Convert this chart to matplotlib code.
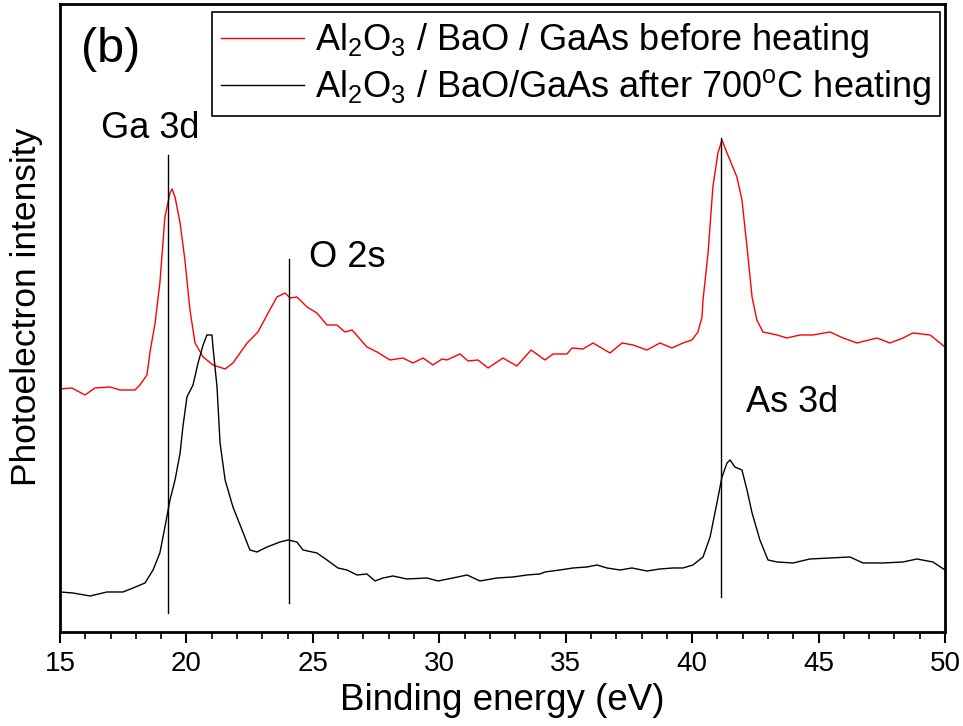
import numpy as np
import matplotlib
matplotlib.use("Agg")
import matplotlib.pyplot as plt
from matplotlib.ticker import MultipleLocator

plt.rcParams['font.family'] = ['Liberation Sans', 'DejaVu Sans']
plt.rcParams['mathtext.fontset'] = 'custom'
plt.rcParams['mathtext.rm'] = 'Liberation Sans'

# binding energy (eV) and intensity (arb. units)
be_before = [15.00, 15.47, 15.99, 16.38, 16.98, 17.37, 17.97, 18.16, 18.44, 18.56,
             18.76, 18.95, 19.15, 19.35, 19.43, 19.55, 19.75, 19.94, 20.14, 20.34,
             20.66, 21.05, 21.53, 21.84, 22.40, 22.83, 23.23, 23.58, 23.90, 24.10,
             24.37, 24.77, 25.16, 25.56, 25.95, 26.27, 26.55, 27.14, 27.54, 28.05,
             28.56, 28.96, 29.36, 29.75, 30.11, 30.30, 30.82, 31.14, 31.53, 31.93,
             32.52, 33.07, 33.63, 34.18, 34.50, 35.05, 35.25, 35.68, 36.08, 36.75,
             37.23, 37.66, 38.21, 38.73, 39.20, 39.64, 39.99, 40.23, 40.39, 40.43,
             40.63, 40.82, 41.02, 41.18, 41.38, 41.77, 41.97, 42.17, 42.37, 42.56,
             42.80, 43.36, 43.75, 44.27, 44.78, 45.45, 45.97, 46.52, 47.31, 47.82,
             48.34, 48.73, 49.41, 50.00]
int_before = [243, 244, 237, 244, 245, 242, 242, 247, 257, 280,
              309, 349, 415, 439, 443, 435, 409, 372, 322, 289,
              275, 267, 263, 269, 289, 300, 319, 335, 339, 334,
              335, 325, 319, 307, 307, 300, 302, 285, 280, 272,
              274, 269, 274, 267, 273, 272, 278, 271, 272, 264,
              274, 266, 282, 272, 278, 278, 284, 283, 289, 279,
              289, 287, 282, 289, 284, 289, 292, 300, 315, 332,
              379, 445, 479, 492, 479, 455, 432, 385, 335, 312,
              300, 297, 294, 297, 297, 300, 294, 289, 294, 289,
              294, 299, 297, 285]

be_after = [15.00, 15.51, 16.19, 16.86, 17.49, 17.89, 18.36, 18.68, 18.95, 19.15,
            19.35, 19.55, 19.75, 19.86, 20.02, 20.26, 20.46, 20.66, 20.81, 21.01,
            21.05, 21.21, 21.33, 21.53, 21.84, 22.20, 22.51, 22.79, 23.19, 23.70,
            24.02, 24.37, 24.61, 25.16, 25.56, 25.99, 26.35, 26.75, 27.14, 27.46,
            27.77, 28.17, 28.72, 29.51, 29.95, 30.54, 31.10, 31.61, 32.28, 32.92,
            33.47, 33.98, 34.18, 34.77, 35.29, 35.84, 36.24, 36.63, 37.15, 37.62,
            38.21, 38.73, 39.24, 39.64, 40.03, 40.43, 40.71, 40.98, 41.18, 41.38,
            41.50, 41.69, 41.97, 42.17, 42.37, 42.68, 43.00, 43.36, 43.99, 44.66,
            45.45, 46.24, 46.76, 47.55, 48.34, 48.89, 49.52, 50.00]
int_after = [40, 39, 36, 40, 40, 44, 49, 62, 79, 105,
             132, 152, 179, 205, 235, 247, 269, 287, 297, 297,
             285, 245, 189, 152, 125, 102, 82, 80, 85, 90,
             92, 90, 82, 79, 72, 64, 62, 57, 58, 51,
             54, 56, 53, 54, 51, 54, 57, 51, 54, 55,
             57, 58, 60, 62, 64, 65, 67, 64, 62, 64,
             61, 63, 64, 64, 67, 75, 95, 129, 155, 169,
             172, 165, 162, 142, 119, 92, 72, 70, 69, 73,
             74, 75, 69, 69, 70, 73, 70, 62]

# peak marker lines: position (eV), bottom, top
peak_names = ['Ga 3d', 'O 2s', 'As 3d']
peak_pos = [19.27, 24.06, 41.14]
peak_bottom = [19, 29, 35]
peak_top = [477, 373, 494]
# label anchor (centre x in eV, baseline in intensity units)
label_x = [18.56, 26.37, 43.97]
label_y = [494, 365, 220]

fig = plt.figure(figsize=(9.63, 7.26), dpi=100)
ax = fig.add_axes([0.0623, 0.1295, 0.919, 0.865])

ax.plot(be_before, int_before, color='red', lw=1.0,
        label=r'Al$_2$O$_3$ / BaO / GaAs before heating')
ax.plot(be_after, int_after, color='black', lw=1.0,
        label=r'Al$_2$O$_3$ / BaO/GaAs after 700$^{\mathregular{o}}$C heating')

for p, b, t in zip(peak_pos, peak_bottom, peak_top):
    ax.plot([p, p], [b, t], color='black', lw=1.0)

ax.text(15.85, 570, '(b)', fontsize=35, va='baseline', ha='left')
for name, lx, ly in zip(peak_names, label_x, label_y):
    ax.text(lx, ly, name, fontsize=26, va='baseline', ha='center')

ax.set_xlim(15, 50)
ax.set_ylim(0, 628)
ax.xaxis.set_major_locator(MultipleLocator(5))
ax.xaxis.set_minor_locator(MultipleLocator(1))
ax.set_yticks([])
ax.tick_params(axis='x', which='major', direction='out', length=8, width=1.5,
               labelsize=20, pad=6)
ax.tick_params(axis='x', which='minor', direction='out', length=5, width=1.2)
for s in ax.spines.values():
    s.set_linewidth(2)

ax.set_xlabel('Binding energy (eV)', fontsize=26.5, labelpad=4)
ax.set_ylabel('Photoelectron intensity', fontsize=25.5)
ax.yaxis.set_label_coords(-0.019, 0.517)

leg = ax.legend(loc='upper right', bbox_to_anchor=(0.9944, 0.987), fontsize=26,
                frameon=True, fancybox=False, edgecolor='black', framealpha=1,
                handlelength=2.3, handletextpad=0.3, borderpad=0.25,
                labelspacing=0.2, borderaxespad=0)
leg.get_frame().set_linewidth(1.2)

fig.savefig('out.png', dpi=100)
